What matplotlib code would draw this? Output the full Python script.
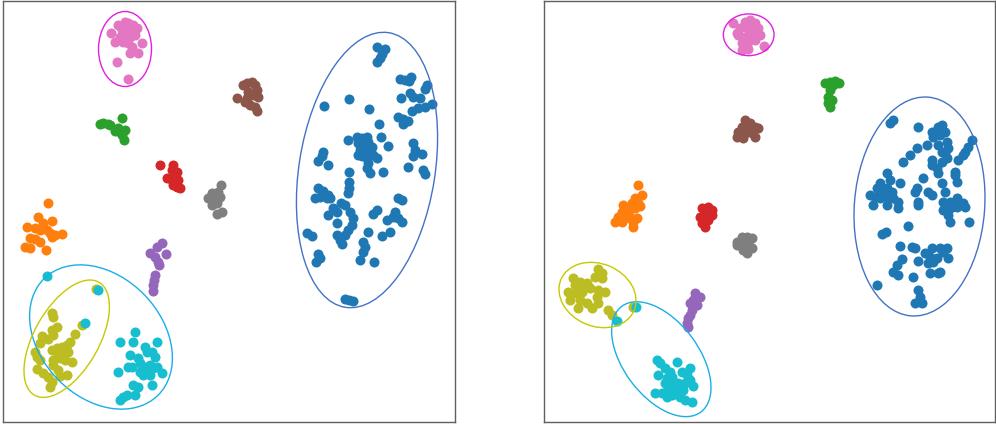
import matplotlib
matplotlib.use("Agg")
import matplotlib.pyplot as plt
from matplotlib.patches import Ellipse
import numpy as np

# ---------------- data (pixel-like coordinates) ----------------
colors = ["#1f77b4", "#ff7f0e", "#2ca02c", "#d62728", "#9467bd",
          "#8c564b", "#e377c2", "#7f7f7f", "#bcbd22", "#17becf"]

# Left panel clusters
L_blue = [(376.7,46.7),(385,49.3),(382.3,54),(380,58.3),(376.7,61.7),
          (400,79.3),(405,80),(411,76.7),(409.3,81),(426.7,85),(425,89.3),
          (324.3,106),(349,99.3),(369,109.3),
          (401,98.3),(410,93.3),(413.3,96.7),(420,98.3),
          (411.7,110.7),(418.3,108.3),(425,107.3),(431.7,104),
          (398.3,117.3),(403.3,119.3),(408.3,120.7),(403.3,124),(379,124),
          (348.3,140),(356.7,137.3),(361.7,138.3),(366.7,136.7),(381,136.7),
          (358.3,143.3),(363.3,145),(368.3,141.7),(371.7,146.7),(360,150),(365,151.7),
          (370,150),(361.7,156),(366.7,158.3),(373.3,155),(358.3,155),(376.7,158.3),(368.3,163.3),
          (387.7,145.7),(413.3,142.7),(415,150),(413.3,156),(421.7,154),
          (323.3,151.7),(321.7,156),(318.3,160.7),(328.3,165),
          (349,171.7),(366.7,168.3),(370,173.3),(383.3,171.7),(408.3,166.7),(423.3,170),(425,174.3),
          (349,181.7),(349,188.3),(347.7,193.3),
          (318.3,188.3),(323.3,191),(328.3,195),(315,198.3),(320,196.7),(326.7,198.3),(330,198.3),
          (341,203.3),(345,205),(333.3,208.3),(328.3,215),(336.7,211.7),
          (350,211.7),(353.3,218.3),(351.7,225),(348.3,230),(336.7,223.3),
          (398.3,198.3),(401.7,200),(376.7,210),(373.3,214.3),
          (395,211.7),(393.3,216.7),(386.7,220),(398.3,218.3),(401.7,222.3),
          (368.3,231.7),(390,231.7),(381.7,235.7),(306.7,233.3),(311.7,235.7),
          (336.7,235),(340,240),(341.7,244.3),(345,235),
          (363.3,241.7),(365,246.7),(363.3,252.3),(360,260),(374.3,261.7),
          (318.3,254.3),(320,258.3),(315.7,262.3),
          (345,299),(349,300),(353.3,301)]
L_orange = [(48.3,203.3),(38.3,216.7),(51.7,221),(43.3,223.3),(26.7,226.7),(35,228.3),
            (40,230),(46.7,230),(50,233.3),(55,235),(61.7,234.3),(30,237.7),(35,239),
            (40,241.7),(25,246.7),(30,248.3),(45.7,250),(51.7,236.7)]
L_green = [(100,124.3),(103.3,123.3),(108.3,124.3),(110,125),(121.7,118.3),(115,131),
           (120,131.7),(125,130),(121.7,135),(124.3,140),(118.3,128.3)]
L_red = [(160,165),(173.3,165),(171.7,170),(176.7,171.7),(175,175),(166.7,178.3),
         (171.7,180),(178.3,180),(173.3,185),(180,188.3),(176.7,186.7)]
L_purple = [(161.7,243.3),(156.7,246.7),(150,253.3),(155,256.7),(166,254.3),(158.3,261.7),
            (159.3,265),(155,275),(154,280),(153.3,285),(152.7,291)]
L_brown = [(236.7,98.3),(243.3,85),(246.7,83.3),(251.7,81.7),(255,85),(256.7,90),(248.3,91.7),
           (253.3,95),(258.3,96.7),(245,101.7),(250,105),(255,106.7),(256.7,111),(246.7,98.3)]
L_pink = [(111,32.7),(118.3,25),(125,21.7),(128.3,23.3),(133.3,25),(136.7,28.3),(121.7,30),
          (126.7,28.3),(131.7,30),(120,36.7),(125,35),(130,36.7),(135,35),(115,41.7),
          (123.3,41.7),(128.3,43.3),(141.7,43.3),(131.7,46.7),(138.3,53.3),(130,53.3),
          (116.7,61.7),(128.3,79.3)]
L_gray = [(220.7,185),(218.3,191.7),(211.7,193.3),(208.3,198.3),(213.3,200),(220,196.7),
          (211.7,205),(216.7,203.3),(216.7,214.3),(221.7,211.7)]
L_olive = [(96,289),(81.7,325),(51.7,313.3),(53.3,316.7),(51.7,330),(56.7,326.7),(53.3,335),
           (41.7,336),(48.3,339.3),(40,343.3),(75,334),(70,341.7),(66.7,345),
           (61.7,346.7),(56.7,348.3),(51.7,350),(58.3,353.3),(63.3,351.7),(68.3,351.7),
           (35,351.7),(36.7,356.7),(40,360),(53.3,360),(60,358.3),(65,360),(71.7,361.7),
           (36.7,369.3),(53.3,365),(58.3,370),(66.7,375),(60,376),(48.3,376.7),
           (51.7,381.7),(50,386.7),(43.3,373.3)]
L_cyan = [(47.3,275.7),(98.3,290),(85,323.3),(135,331.7),(120,341.7),(133.3,341.7),(156.7,341.7),
          (145,346.7),(146.7,351.7),(151.7,351.7),(155,356.7),(130,355),(138.3,358.3),
          (131.7,366.7),(128.3,366.7),(140,363.3),(145,366.7),(150,365),(153.3,368.3),
          (146.7,371.7),(140,371.7),(143.3,375),(150,375),(156.7,366.7),(161.7,373.3),
          (118.3,371.7),(133.3,385),(138.3,386.7),(135,395),(151.7,385),
          (123.3,396.7),(120,400),(126.7,395)]

# Right panel clusters
R_blue = [(890,123.3),(893.3,120),(917.7,127.3),
          (931.7,131.7),(938.3,126.7),(941.7,125),(933.3,136.7),(940,135),(945,131.7),
          (926.7,145),(938.3,145),(946.7,141.7),(948.3,148.3),(941.7,151.7),(945,153.3),
          (916.7,148.3),(910,155),(903.3,161.7),
          (971.7,140),(968.3,146.7),(965,151.7),(963.3,155),(958.3,160),
          (946.7,158.3),(941.7,161.7),(931.7,165),(936.7,168.3),(931.7,160),(938.3,173.3),
          (955,171.7),(956.7,181.7),(955,175),
          (886.7,173.3),(890,180),(900,183.3),(880,183.3),(876.7,188.3),(881.7,191.7),
          (886.7,188.3),(891.7,191.7),(870,195),(875,196.7),(880,198.3),(886.7,196.7),
          (893.3,198.3),(898.3,201.7),
          (923.3,178.3),(916.7,188.3),(915,191.7),(928.3,191.7),(931.7,195),
          (941.7,183.3),(945,191.7),(918.3,201.7),
          (943.3,201.7),(950,201.7),(956.7,198.3),(963.3,203.3),(951.7,206.7),
          (873.3,205),(886.7,205),(898.3,208.3),(918.3,205),
          (943.3,210),(950,208.3),(956.7,206.7),(965,206.7),(948.3,215),(950,221.7),
          (969,222.3),(908.3,225.7),(881.7,234.3),(886,232.3),
          (900,245.7),(911.7,246.7),(915,248.3),
          (925,253.3),(931.7,248.3),(940,247.7),(946.7,247.7),(930,256.7),(936.7,258.3),
          (948.3,257.7),(943.3,251.7),
          (901.7,259),(896.7,265),(893.3,271.7),(898.3,275),(918.3,261),
          (928.3,263.3),(933.3,261.7),(930,273.3),(938.3,273.3),(940,271.7),(912.7,276.7),
          (876.7,285),(918.3,290),(920,296.7),(915,302.7),(921.7,303.3)]
R_orange = [(637.7,185),(642.3,195),(635,197.7),(638.3,203.3),(631.7,203.3),(623.3,205),
            (626.7,208.3),(635,208.3),(640,205.7),(621.7,211.7),(628.3,213.3),(618.3,216.7),
            (625,218.3),(630,216.7),(636.7,218.3),(615,221.7),(621.7,221.7),(633.3,226.7),
            (633.3,221.7)]
R_green = [(825,82.7),(830,81.7),(835,80.7),(839,83.3),(833.3,85),(830,90),(828.3,96.7),
           (828.3,103.3),(830,107.3),(831.7,100)]
R_red = [(701.7,208.3),(708.3,206.7),(712.3,210),(700,216.7),(706.7,213.3),(711.7,215),
         (703.3,220),(708.3,220),(705,226.7),(701.7,223.3)]
R_purple = [(695,293.3),(700,296.7),(693.3,300),(690,303.3),(696.7,305),(691.7,310),
            (690,315),(688.3,318.3),(686.7,323.3),(688.3,326.7)]
R_brown = [(745,120),(750,123.3),(741.7,126.7),(748.3,128.3),(755,126.7),(758.3,128.3),
           (738.3,131.7),(745,133.3),(751.7,133.3),(736.7,136.7),(743.3,138.3),(755,136.7)]
R_pink = [(733.3,23.3),(745,21.7),(750,20),(755,23.3),(740,28.3),(746.7,28.3),(753.3,30),
          (758.3,28.3),(738.3,35),(745,36.7),(751.7,35),(760,35),(741.7,43.3),(748.3,41.7),
          (755,40),(764.3,46),(741.7,50),(748.3,49.3),(736.7,33.3)]
R_gray = [(736.7,241.7),(741.7,236.7),(746.7,236.7),(751.7,238.3),(741.7,245),(748.3,243.3),
          (751.7,248.3),(746.7,253.3),(743.3,250),(736.7,245)]
R_olive = [(597.7,269),(601.7,273.3),(595,276.7),(601.7,278.3),(573.3,278.3),(580,281.7),
           (586.7,283.3),(575,285),(583.3,286.7),(590,288.3),(568.3,291.7),(575,293.3),
           (581.7,291.7),(598.3,290),(605,291.7),(596.7,296.7),(570,300),(580,300),
           (586.7,303.3),(591.7,308.3),(578.3,308.3),(598.3,303.3),(608.3,310),(611.7,315),
           (633.3,306.7)]
R_cyan = [(635.7,306.7),(616.7,321),
          (656.7,360),(660,363.3),(676.7,361.7),(690,368.3),(665,368.3),(670,371.7),
          (658.3,375),(666.7,378.3),(671.7,376.7),(681.7,371.7),(686.7,375),(690,380),
          (665,383.3),(671.7,383.3),(678.3,383.3),(685,383.3),(693.3,386),(668.3,388.3),
          (676.7,390),(683.3,390),(655,392.7),(661.7,393.3),(671.7,395),(680,396.7),
          (685,400),(691.7,401.7),(666.7,397.3)]

left_clusters = [L_blue, L_orange, L_green, L_red, L_purple, L_brown, L_pink, L_gray, L_olive, L_cyan]
right_clusters = [R_blue, R_orange, R_green, R_red, R_purple, R_brown, R_pink, R_gray, R_olive, R_cyan]

# ellipses: (cx, cy, width, height, angle, colour)
left_ellipses = [(125, 49, 53, 75, 0, "#e020e0"),
                 (367, 170, 278, 136, -81, "#4472c4"),
                 (101, 337, 163, 121, 46, "#1aaee8"),
                 (66.7, 338.7, 130, 64.6, -60.3, "#c8c800")]
right_ellipses = [(748.7, 34.8, 50.7, 41.7, 0, "#e020e0"),
                  (919.5, 206.5, 219.4, 130.3, -85.6, "#4472c4"),
                  (661.3, 359.2, 132, 75.2, 53.2, "#1aaee8"),
                  (597.5, 295, 79.4, 62.5, 23, "#c8c800")]

# ---------------- drawing ----------------
fig = plt.figure(figsize=(9.96, 4.24), dpi=100)
W, H = 996, 424
axL = fig.add_axes([3 / W, 2 / H, 452 / W, 421 / H])
axR = fig.add_axes([544 / W, 2 / H, 451 / W, 421 / H])

for ax, clusters, ells, xl in [(axL, left_clusters, left_ellipses, (3, 455)),
                               (axR, right_clusters, right_ellipses, (544, 995))]:
    for c, pts in zip(colors, clusters):
        a = np.array(pts)
        ax.scatter(a[:, 0], a[:, 1], s=52, c=c, linewidths=0, zorder=2)
    for (cx, cy, w, h, ang, col) in ells:
        ax.add_patch(Ellipse((cx, cy), w, h, angle=ang, fill=False,
                             edgecolor=col, linewidth=1.0, zorder=3))
    ax.set_xlim(*xl)
    ax.set_ylim(422, 1)
    ax.set_xticks([])
    ax.set_yticks([])
    for sp in ax.spines.values():
        sp.set_color("#606060")
        sp.set_linewidth(1.0)

fig.savefig("out.png", dpi=100)
